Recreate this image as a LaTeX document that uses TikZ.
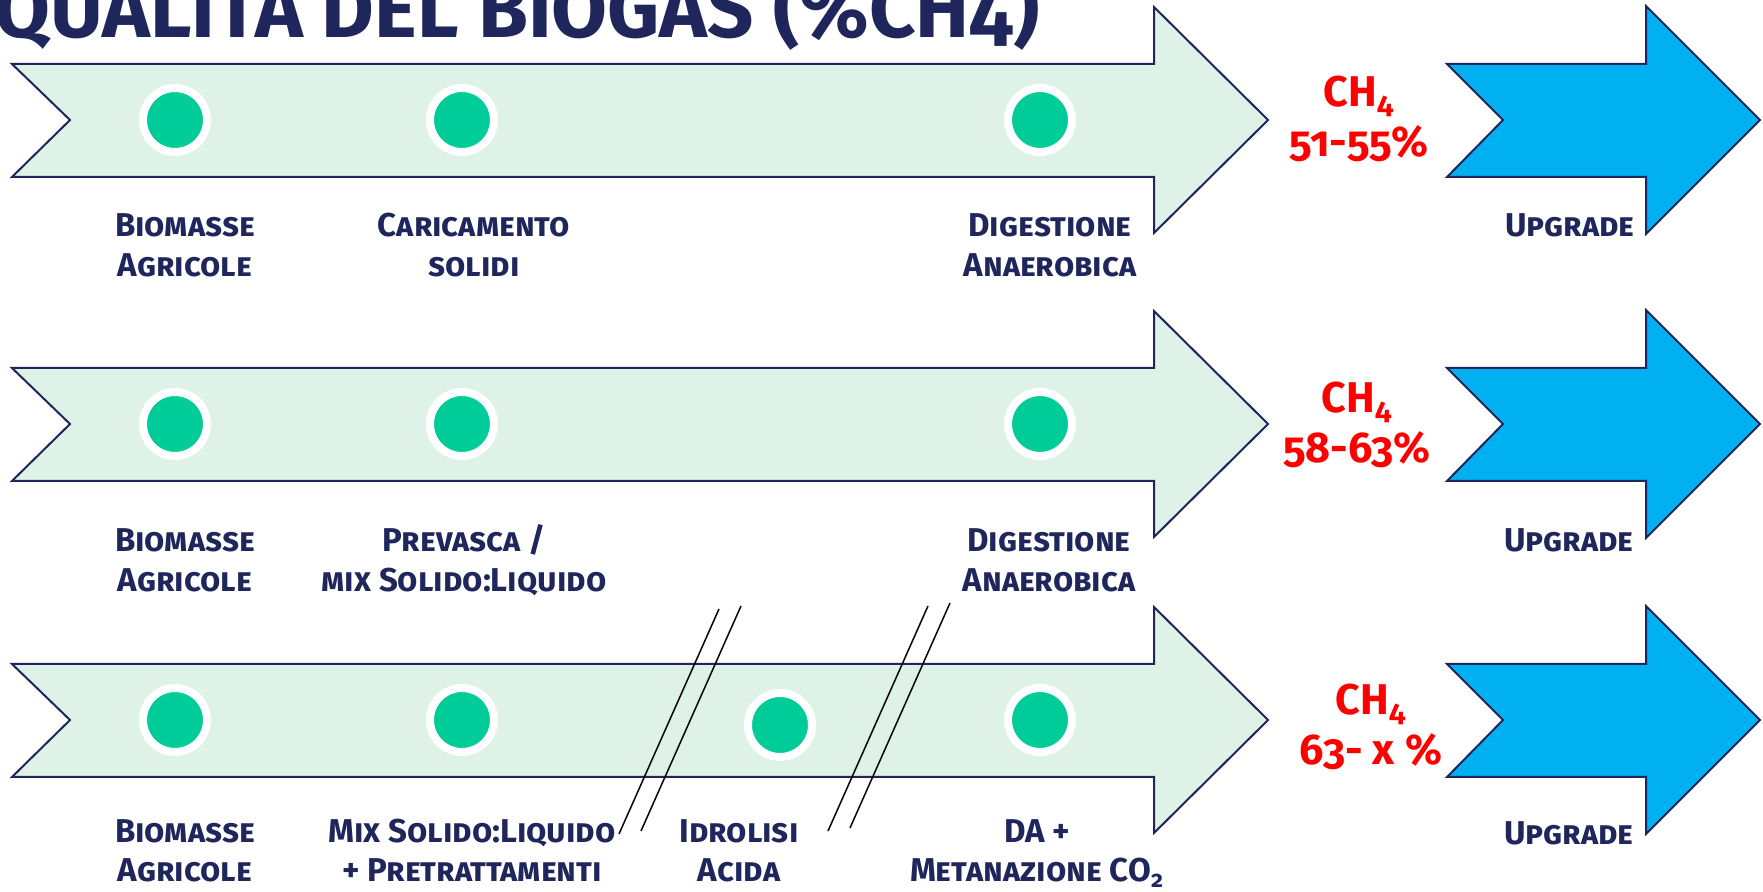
\documentclass[tikz,border=0pt]{standalone}
\usepackage{fontspec}
\setmainfont{Fira Sans}[Numbers=OldStyle]
\usetikzlibrary{positioning}
\definecolor{navy}{HTML}{1F265C}
\definecolor{mint}{HTML}{DEF2E8}
\definecolor{dotgreen}{HTML}{00CC99}
\definecolor{skyblue}{HTML}{00B0F0}
\definecolor{ch4red}{HTML}{FF0000}

\begin{document}
\begin{tikzpicture}[
    x=0.5pt, y=-0.5pt,
    band/.style={draw=navy, fill=mint, line width=1pt},
    upgrade/.style={draw=navy, fill=skyblue, line width=1pt},
    dot/.style={circle, fill=dotgreen, draw=white, line width=4pt, minimum size=32pt, inner sep=0pt},
    stage/.style={text=navy, align=center, inner sep=0pt, anchor=base, font=\fontsize{16.5}{20}\selectfont\bfseries\scshape},
    yield/.style={text=ch4red, align=center, inner sep=0pt, anchor=base, font=\fontsize{21.5}{25}\selectfont\bfseries},
    cut/.style={line width=0.75pt}
]
\useasboundingbox (0,0) rectangle (1763,892);

% title, cut by the top edge
\node[anchor=base west, inner sep=0pt, text=navy, font=\fontsize{40.5}{40}\selectfont\bfseries] (title) at (-6,38) {QUALITÀ DEL BIOGAS (\%CH4)};

% process bands and upgrade arrows
\foreach \cy in {120,424,720} {
  \draw[band] (12,\cy-56) -- (1154,\cy-56) -- (1154,\cy-113) -- (1268,\cy) -- (1154,\cy+113) -- (1154,\cy+57) -- (12,\cy+57) -- (70,\cy) -- cycle;
  \draw[upgrade] (1447,\cy-56) -- (1646,\cy-56) -- (1646,\cy-114) -- (1760,\cy) -- (1646,\cy+114) -- (1646,\cy+57) -- (1447,\cy+57) -- (1503,\cy) -- cycle;
}

% break marks
\draw[cut] (619,834) -- (719,609);
\draw[cut] (641,831) -- (741,606);
\draw[cut] (828,831) -- (928,606);
\draw[cut] (850,828) -- (950,603);

% stages
\node[dot] (bio1) at (175,120) {};
\node[dot] (car1) at (462,120) {};
\node[dot] (dig1) at (1040,120) {};
\node[dot] (bio2) at (175,424) {};
\node[dot] (pre2) at (462,424) {};
\node[dot] (dig2) at (1040,424) {};
\node[dot] (bio3) at (175,720) {};
\node[dot] (mix3) at (462,720) {};
\node[dot] (idr3) at (780,725) {};
\node[dot] (da3) at (1040,720) {};

% labels (base = last line)
\node[stage] (lbio1) at (185,277) {Biomasse\\Agricole};
\node[stage] (lcar1) at (474,277) {Caricamento\\solidi};
\node[stage] (ldig1) at (1050,277) {Digestione\\Anaerobica};
\node[stage] (lupg1) at (1570,237) {Upgrade};

\node[stage] (lbio2) at (185,592) {Biomasse\\Agricole};
\node[stage] (lpre2) at (464,592) {Prevasca /\\mix Solido:Liquido};
\node[stage] (ldig2) at (1049,592) {Digestione\\Anaerobica};
\node[stage] (lupg2) at (1569,552) {Upgrade};

\node[stage] (lbio3) at (185,882) {Biomasse\\Agricole};
\node[stage] (lmix3) at (472,882) {Mix Solido:Liquido\\+ Pretrattamenti};
\node[stage] (lidr3) at (739,882) {Idrolisi\\Acida};
\node[stage] (lda3) at (1037,882) {DA +\\Metanazione CO\textsubscript{2}};
\node[stage] (lupg3) at (1569,845) {Upgrade};

% methane content
\node[yield] (ch1) at (1359,157) {CH\textsubscript{4}\\51-55\%};
\node[yield] (ch2) at (1357,463) {CH\textsubscript{4}\\58-63\%};
\node[yield] (ch3) at (1371,765) {CH\textsubscript{4}\\63- x \%};
\end{tikzpicture}
\end{document}
